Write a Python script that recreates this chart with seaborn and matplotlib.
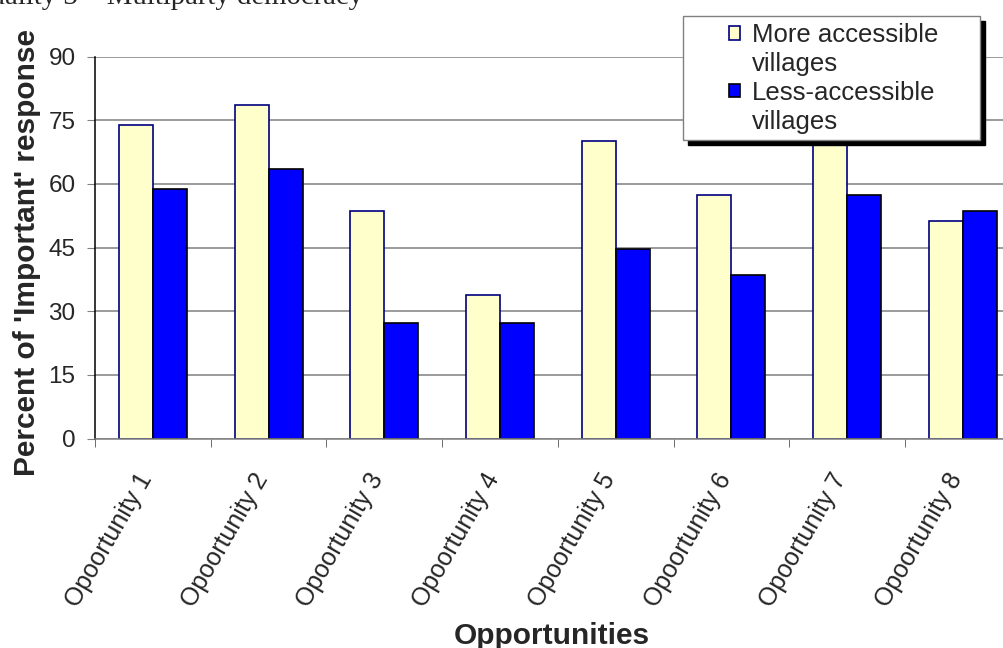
import numpy as np
import pandas as pd
import seaborn as sns
import matplotlib.pyplot as plt
from matplotlib.patches import Patch, Rectangle

# categories (the typo is in the original chart)
opportunities = ['Opoortunity 1', 'Opoortunity 2', 'Opoortunity 3', 'Opoortunity 4',
                 'Opoortunity 5', 'Opoortunity 6', 'Opoortunity 7', 'Opoortunity 8']
series_names = ['More accessible villages', 'Less-accessible villages']
more_accessible = [73.8, 78.6, 53.6, 33.8, 70.2, 57.3, 79.0, 51.2]
less_accessible = [58.8, 63.6, 27.2, 27.2, 44.6, 38.5, 57.3, 53.6]
y_ticks = [0, 15, 30, 45, 60, 75, 90]

df = pd.DataFrame({
    'Opportunities': opportunities * 2,
    'Series': [series_names[0]] * len(opportunities) + [series_names[1]] * len(opportunities),
    'Percent': more_accessible + less_accessible,
})

sns.set_style('white')
plt.rcParams['font.family'] = ['Liberation Sans', 'DejaVu Sans']

fill_colors = {series_names[0]: '#FFFFCC', series_names[1]: '#0000FF'}
edge_colors = ['#000080', '#000000']

fig = plt.figure(figsize=(10.04, 6.48), dpi=100)
ax = fig.add_axes([0.0946, 0.3233, 0.922, 0.5892])

sns.barplot(data=df, x='Opportunities', y='Percent', hue='Series', order=opportunities,
            hue_order=series_names, palette=fill_colors, width=0.588, gap=0,
            saturation=1, legend=False, ax=ax)
for cont, ec in zip(ax.containers, edge_colors):
    for bar in cont:
        bar.set_edgecolor(ec)
        bar.set_linewidth(1.2)

# axes styling
ax.set_xlim(-0.5, len(opportunities) - 0.5)
ax.set_ylim(0, 90)
ax.set_yticks(y_ticks)
ax.set_axisbelow(True)
ax.yaxis.grid(True, color='#808080', linewidth=1.1)
ax.xaxis.grid(False)
for side in ['top', 'right']:
    ax.spines[side].set_visible(False)
ax.spines['left'].set_color('black')
ax.spines['left'].set_linewidth(1.1)
ax.spines['bottom'].set_color('#808080')
ax.spines['bottom'].set_linewidth(1.1)

ax.tick_params(axis='y', labelsize=17.5, length=6, color='#808080', pad=8, left=True)
ax.set_xticks(range(len(opportunities)))
ax.set_xticklabels(opportunities, rotation=60, ha='right', va='baseline',
                   rotation_mode='anchor', fontsize=18)
ax.tick_params(axis='x', which='major', length=0, pad=29)
ax.set_xticks(np.arange(-0.5, len(opportunities), 1), minor=True)
ax.tick_params(axis='x', which='minor', length=6, color='#555555', bottom=True)

ax.set_xlabel('Opportunities', fontsize=21.5, fontweight='bold')
ax.xaxis.label.set_va('baseline')
ax.xaxis.set_label_coords(0.494, -0.538)
ax.set_ylabel("Percent of 'Important' response", fontsize=21.5, fontweight='bold')
ax.yaxis.set_label_coords(-0.058, 0.487)

# legend: frame with hard shadow, each name split over two lines
fig.patches.append(Rectangle((688 / 1004, 1 - 145 / 648), 297 / 1004, 124 / 648,
                             transform=fig.transFigure, facecolor='black',
                             edgecolor='black', zorder=3))
fig.patches.append(Rectangle((683 / 1004, 1 - 140 / 648), 297 / 1004, 124 / 648,
                             transform=fig.transFigure, facecolor='white',
                             edgecolor='#808080', linewidth=1, zorder=4))
handles, labels = [], []
for name, ec in zip(series_names, edge_colors):
    first, second = name.rsplit(' ', 1)
    handles.append(Patch(facecolor=fill_colors[name], edgecolor=ec, linewidth=1.2))
    labels.append(first)
    handles.append(Patch(facecolor='none', edgecolor='none'))
    labels.append(second)
fig.legend(handles, labels, loc='upper left', bbox_to_anchor=(729 / 1004, 1 - 23 / 648),
           frameon=False, fontsize=18.5, handlelength=0.43, handleheight=0.43,
           handletextpad=0.47, labelspacing=0.19, borderpad=0, borderaxespad=0)

# text of the page above the chart, cut at the top edge
fig.text(363 / 1004, 1 - 4.5 / 648, 'Quality 3 \u2013 Multiparty democracy', ha='right',
         va='baseline', fontsize=20.7, family=['Liberation Serif', 'DejaVu Serif'])

fig.savefig('out.png', dpi=100)
